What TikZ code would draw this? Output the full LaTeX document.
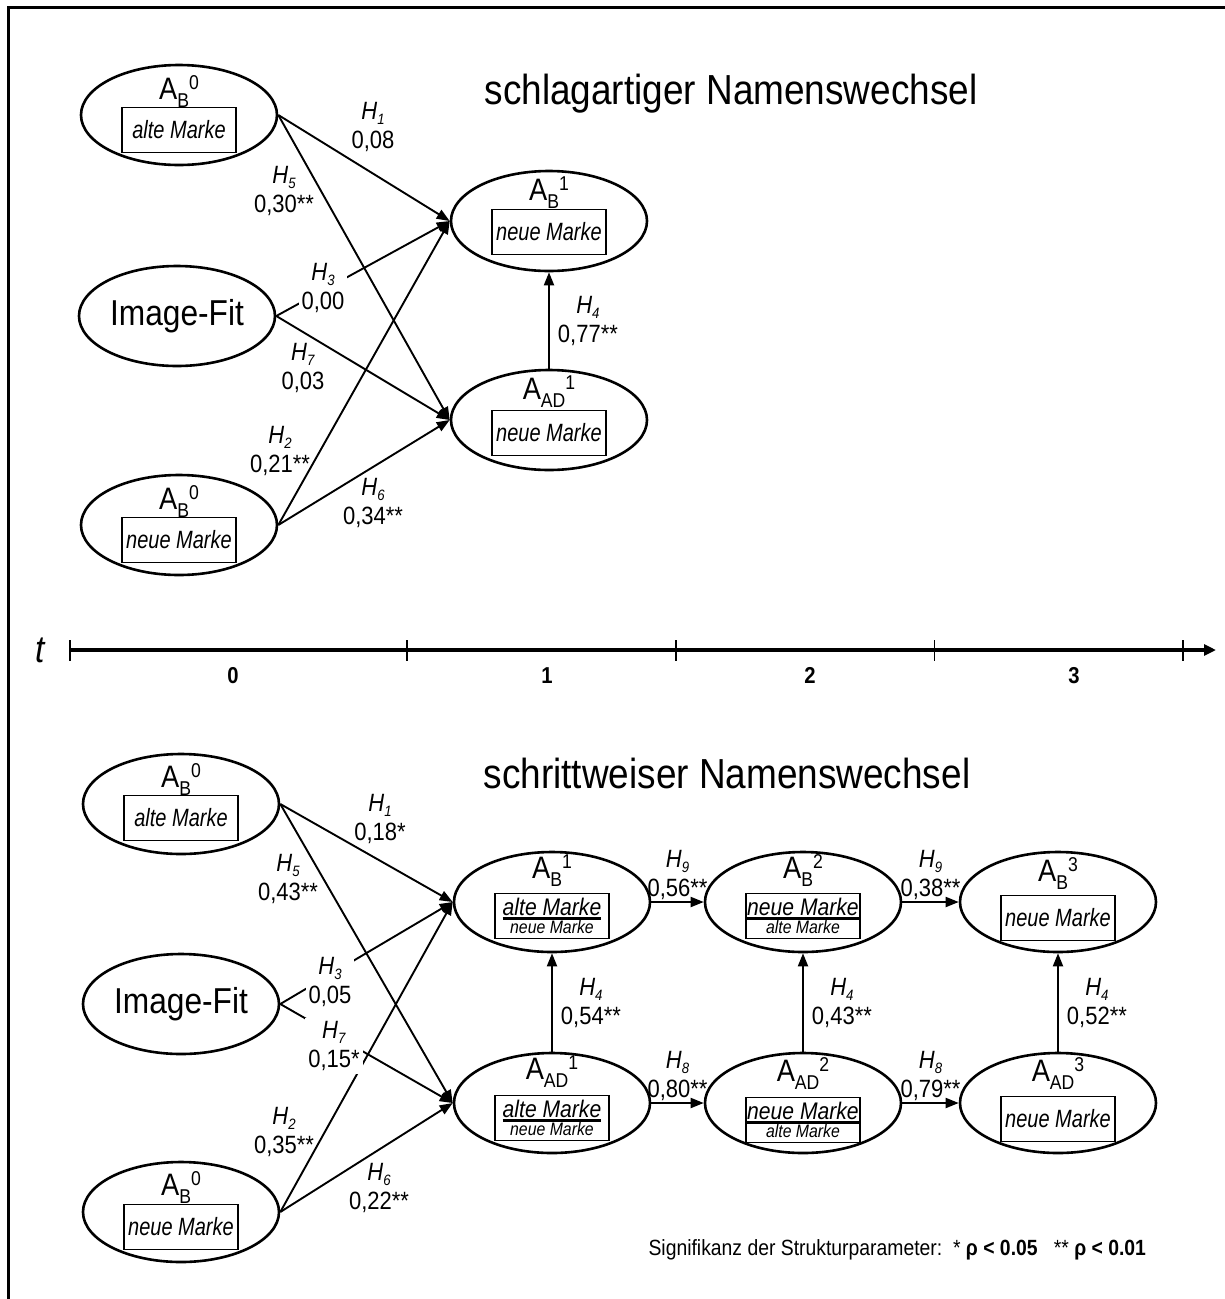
\documentclass[tikz,border=0pt]{standalone}
\usepackage{fontspec}
\setmainfont{Liberation Sans}[FakeStretch=0.88]
\newfontfamily\schmal{Liberation Sans}[FakeStretch=0.8]
\usetikzlibrary{shapes.geometric,arrows.meta}

\newcommand{\einst}[2]{{\fontsize{31}{31}\selectfont A}\raisebox{-8pt}{\fontsize{20}{20}\selectfont #1}\raisebox{10pt}{\fontsize{20}{20}\selectfont #2}}
\newcommand{\hyp}[2]{\textit{H}\raisebox{-5pt}{\fontsize{15}{15}\selectfont\textit{#1}}\\#2}
\newcommand{\unterstr}[1]{\vtop{\hbox{#1}\kern1.5pt\hrule height 2.2pt}}
\newcommand{\marke}[1]{{\schmal\itshape\fontsize{25}{28}\selectfont #1}}
\newcommand{\markezwei}[2]{\unterstr{\fontsize{24}{26}\selectfont\itshape #1}\\{\fontsize{18}{20}\selectfont\itshape #2}}

\begin{document}
\begin{tikzpicture}[x=1pt,y=-1pt,
    konstrukt/.style={draw,ellipse,line width=2.6pt,minimum width=196pt,minimum height=100pt,inner sep=0pt},
    markenbox/.style={draw,line width=1.3pt,minimum width=114pt,minimum height=45pt,inner sep=0pt,align=center,font=\fontsize{24}{18}\selectfont},
    kopf/.style={anchor=base,inner sep=0pt},
    pfad/.style={line width=1.9pt,-{Triangle[length=13pt,width=10pt]}},
    koeff/.style={align=center,inner sep=1pt,font=\fontsize{25}{29}\selectfont},
    freikoeff/.style={koeff,fill=white,inner sep=3pt}]
    \useasboundingbox (0,0) rectangle (1225,1299);
    \draw [line width=2.5pt] (8.5,1310) -- (8.5,7.5) -- (1235,7.5);

    \node [anchor=base west,font=\fontsize{42}{42}\selectfont] (titel1) at (481,104) {schlagartiger Namenswechsel};
    \node [konstrukt] (ta0) at (179,115) {};
    \node [kopf] (ta0k) at ([yshift=16pt]ta0.center) {\einst{B}{0}};
    \node [markenbox] (ta0m) at ([yshift=-15pt]ta0.center) {\marke{alte Marke}};
    \node [konstrukt,font=\fontsize{36}{36}\selectfont] (tfit) at (177,316) {Image-Fit};
    \node [konstrukt] (tb0) at (179,525) {};
    \node [kopf] (tb0k) at ([yshift=16pt]tb0.center) {\einst{B}{0}};
    \node [markenbox] (tb0m) at ([yshift=-15pt]tb0.center) {\marke{neue Marke}};
    \node [konstrukt] (tab1) at (549,221) {};
    \node [kopf] (tab1k) at ([yshift=21pt]tab1.center) {\einst{B}{1}};
    \node [markenbox] (tab1m) at ([yshift=-11pt]tab1.center) {\marke{neue Marke}};
    \node [konstrukt] (taad1) at (549,420) {};
    \node [kopf] (taad1k) at ([yshift=21pt]taad1.center) {\einst{AD}{1}};
    \node [markenbox] (taad1m) at ([yshift=-13pt]taad1.center) {\marke{neue Marke}};

    \draw [pfad] (ta0.east) -- (tab1.west);
    \draw [pfad] (ta0.east) -- (taad1.west);
    \draw [pfad] (tfit.east) -- (tab1.west);
    \draw [pfad] (tfit.east) -- (taad1.west);
    \draw [pfad] (tb0.east) -- (tab1.west);
    \draw [pfad] (tb0.east) -- (taad1.west);
    \draw [pfad] (taad1.north) -- node [koeff,right=7pt] {\hyp{4}{0,77**}} (tab1.south);
    \node [koeff] (th1) at (373,127) {\hyp{1}{0,08}};
    \node [koeff] (th5) at (284,191) {\hyp{5}{0,30**}};
    \node [freikoeff] (th3) at (323,288) {\hyp{3}{0,00}};
    \node [koeff] (th7) at (303,368) {\hyp{7}{0,03}};
    \node [koeff] (th2) at (280,451) {\hyp{2}{0,21**}};
    \node [koeff] (th6) at (373,503) {\hyp{6}{0,34**}};

    \node [font=\fontsize{38}{38}\selectfont\itshape] (tachse) at (40,650) {t};
    \draw [line width=4pt,-{Triangle[length=12pt,width=11pt]}] (70,650) -- (1216,650);
    \foreach \x in {70,407,676,934.5,1183}
        \draw [line width=1.8pt] (\x,640) -- (\x,661);
    \foreach \x/\n in {233/0,547/1,810/2,1074/3}
        \node [anchor=base,font=\fontsize{23}{23}\selectfont\bfseries] (zeit\n) at (\x,683) {\n};

    \node [anchor=base west,font=\fontsize{42}{42}\selectfont] (titel2) at (480,788) {schrittweiser Namenswechsel};
    \node [konstrukt] (ba0) at (181,804) {};
    \node [kopf] (ba0k) at ([yshift=17pt]ba0.center) {\einst{B}{0}};
    \node [markenbox] (ba0m) at ([yshift=-14pt]ba0.center) {\marke{alte Marke}};
    \node [konstrukt,font=\fontsize{36}{36}\selectfont] (bfit) at (181,1004) {Image-Fit};
    \node [konstrukt] (bb0) at (181,1212) {};
    \node [kopf] (bb0k) at ([yshift=17pt]bb0.center) {\einst{B}{0}};
    \node [markenbox] (bb0m) at ([yshift=-15pt]bb0.center) {\marke{neue Marke}};

    \node [konstrukt] (bab1) at (552,902) {};
    \node [kopf] (bab1k) at ([yshift=24pt]bab1.center) {\einst{B}{1}};
    \node [markenbox] (bab1m) at ([yshift=-14pt]bab1.center) {\markezwei{alte Marke}{neue Marke}};
    \node [konstrukt] (bab2) at (803,902) {};
    \node [kopf] (bab2k) at ([yshift=24pt]bab2.center) {\einst{B}{2}};
    \node [markenbox] (bab2m) at ([yshift=-14pt]bab2.center) {\markezwei{neue Marke}{alte Marke}};
    \node [konstrukt] (bab3) at (1058,902) {};
    \node [kopf] (bab3k) at ([yshift=21pt]bab3.center) {\einst{B}{3}};
    \node [markenbox] (bab3m) at ([yshift=-16pt]bab3.center) {\marke{neue Marke}};
    \node [konstrukt] (baad1) at (552,1103) {};
    \node [kopf] (baad1k) at ([yshift=24pt]baad1.center) {\einst{AD}{1}};
    \node [markenbox] (baad1m) at ([yshift=-15pt]baad1.center) {\markezwei{alte Marke}{neue Marke}};
    \node [konstrukt] (baad2) at (803,1103) {};
    \node [kopf] (baad2k) at ([yshift=22pt]baad2.center) {\einst{AD}{2}};
    \node [markenbox] (baad2m) at ([yshift=-17pt]baad2.center) {\markezwei{neue Marke}{alte Marke}};
    \node [konstrukt] (baad3) at (1058,1103) {};
    \node [kopf] (baad3k) at ([yshift=22pt]baad3.center) {\einst{AD}{3}};
    \node [markenbox] (baad3m) at ([yshift=-16pt]baad3.center) {\marke{neue Marke}};

    \draw [pfad] (ba0.east) -- (bab1.west);
    \draw [pfad] (ba0.east) -- (baad1.west);
    \draw [pfad] (bfit.east) -- (bab1.west);
    \draw [pfad] (bfit.east) -- (baad1.west);
    \draw [pfad] (bb0.east) -- (bab1.west);
    \draw [pfad] (bb0.east) -- (baad1.west);
    \draw [pfad] (baad1.north) -- node [koeff,right=7pt] {\hyp{4}{0,54**}} (bab1.south);
    \draw [pfad] (baad2.north) -- node [koeff,right=7pt] {\hyp{4}{0,43**}} (bab2.south);
    \draw [pfad] (baad3.north) -- node [koeff,right=7pt] {\hyp{4}{0,52**}} (bab3.south);
    \draw [pfad] (bab1.east) -- node [koeff,above] {\hyp{9}{0,56**}} (bab2.west);
    \draw [pfad] (bab2.east) -- node [koeff,above] {\hyp{9}{0,38**}} (bab3.west);
    \draw [pfad] (baad1.east) -- node [koeff,above] {\hyp{8}{0,80**}} (baad2.west);
    \draw [pfad] (baad2.east) -- node [koeff,above] {\hyp{8}{0,79**}} (baad3.west);
    \node [koeff] (bh1) at (380,819) {\hyp{1}{0,18*}};
    \node [koeff] (bh5) at (288,879) {\hyp{5}{0,43**}};
    \node [freikoeff] (bh3) at (330,982) {\hyp{3}{0,05}};
    \node [freikoeff] (bh7) at (334,1046) {\hyp{7}{0,15*}};
    \node [koeff] (bh2) at (284,1132) {\hyp{2}{0,35**}};
    \node [koeff] (bh6) at (379,1188) {\hyp{6}{0,22**}};

    \node [anchor=base west,font=\fontsize{22}{22}\selectfont] (legende) at (645,1255) {Signifikanz der Strukturparameter:\ \ * \textbf{ρ < 0.05}\ \ \ ** \textbf{ρ < 0.01}};
\end{tikzpicture}
\end{document}
